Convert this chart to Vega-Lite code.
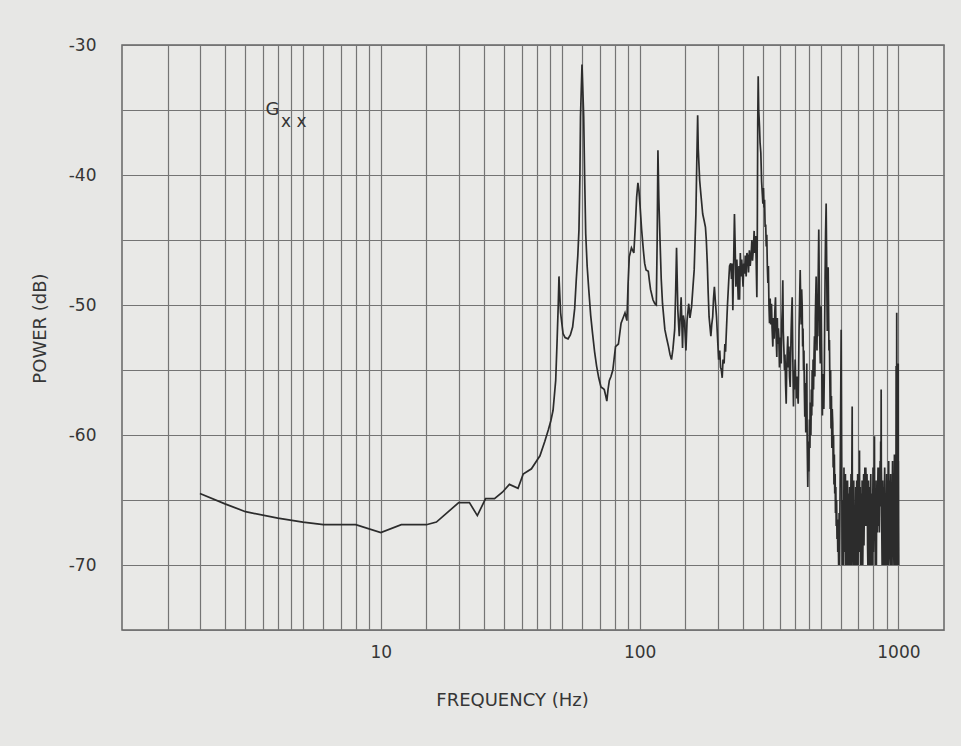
{
"$schema": "https://vega.github.io/schema/vega-lite/v6.json",
"autosize": {"type": "none"},
"padding": {"left": 122, "top": 45, "right": 17, "bottom": 116},
"width": 822,
"height": 585,
"background": "#e7e7e5",
"config": {
"view": {"stroke": "#666666", "strokeWidth": 1.5, "fill": "#e9e9e7"},
"axis": {"grid": true, "gridColor": "#747474", "gridWidth": 1.2, "gridOpacity": 1, "domain": false, "ticks": false, "tickSize": 0, "labelFont": "DejaVu Sans", "labelFontSize": 17, "labelColor": "#363636", "titleFont": "DejaVu Sans", "titleFontSize": 18, "titleFontWeight": "normal", "titleColor": "#363636", "labelOverlap": false, "labelBound": false, "labelFlush": false}
},
"data": {"values": [
{"f":2,"p":-64.5},{"f":2.5,"p":-65.3},{"f":3,"p":-65.9},{"f":4,"p":-66.4},{"f":5,"p":-66.7},{"f":6,"p":-66.9},{"f":8,"p":-66.9},{"f":10,"p":-67.5},{"f":12,"p":-66.9},{"f":15,"p":-66.9},{"f":16.4,"p":-66.7},{"f":20,"p":-65.2},{"f":22,"p":-65.2},{"f":23.6,"p":-66.2},{"f":25.4,"p":-64.9},{"f":27.5,"p":-64.9},{"f":29.5,"p":-64.4},{"f":31.4,"p":-63.8},{"f":33.9,"p":-64.1},{"f":35.5,"p":-63.0},{"f":38.2,"p":-62.6},{"f":41.2,"p":-61.6},{"f":43,"p":-60.5},{"f":44.4,"p":-59.6},{"f":45.4,"p":-58.9},{"f":46.3,"p":-58.1},{"f":47.4,"p":-55.8},{"f":48,"p":-52.7},{"f":48.5,"p":-49.9},{"f":48.8,"p":-47.8},{"f":49.5,"p":-50.6},{"f":50.6,"p":-52.2},{"f":51.5,"p":-52.5},{"f":52.9,"p":-52.6},{"f":54,"p":-52.3},{"f":55.1,"p":-51.7},{"f":56.1,"p":-50.3},{"f":56.9,"p":-48.1},{"f":57.7,"p":-46.2},{"f":58.3,"p":-44.2},{"f":58.8,"p":-40.0},{"f":59.1,"p":-35.5},{"f":59.9,"p":-31.5},{"f":60.8,"p":-35.5},{"f":61.3,"p":-40.0},{"f":61.9,"p":-44.5},{"f":62.7,"p":-47.0},{"f":63.6,"p":-48.8},{"f":64.7,"p":-50.8},{"f":65.8,"p":-52.2},{"f":67,"p":-53.6},{"f":68.2,"p":-54.7},{"f":69.5,"p":-55.6},{"f":70.9,"p":-56.3},{"f":72,"p":-56.4},{"f":73,"p":-56.5},{"f":74,"p":-57.0},{"f":74.7,"p":-57.4},{"f":75.5,"p":-56.5},{"f":76.4,"p":-55.8},{"f":77.5,"p":-55.5},{"f":78.8,"p":-55.0},{"f":80.7,"p":-53.2},{"f":82.8,"p":-53.0},{"f":84.8,"p":-51.4},{"f":86.3,"p":-51.0},{"f":87.8,"p":-50.6},{"f":89.3,"p":-51.2},{"f":90.2,"p":-48.5},{"f":91.2,"p":-46.3},{"f":93,"p":-45.6},{"f":95,"p":-46.0},{"f":96.2,"p":-44.0},{"f":97.4,"p":-41.7},{"f":98.5,"p":-40.6},{"f":99.4,"p":-41.2},{"f":100.4,"p":-42.4},{"f":101.8,"p":-44.2},{"f":103.4,"p":-45.8},{"f":104.6,"p":-46.8},{"f":105.9,"p":-47.3},{"f":108,"p":-47.4},{"f":109.2,"p":-48.2},{"f":110.2,"p":-48.8},{"f":112.6,"p":-49.6},{"f":114.5,"p":-49.9},{"f":116,"p":-50.0},{"f":116.9,"p":-45.0},{"f":117.7,"p":-38.1},{"f":118.6,"p":-41.7},{"f":119.9,"p":-45.0},{"f":121.2,"p":-48.0},{"f":122.6,"p":-49.9},{"f":125.2,"p":-51.9},{"f":127,"p":-52.5},{"f":129.3,"p":-53.2},{"f":131,"p":-53.8},{"f":132.8,"p":-54.2},{"f":134.5,"p":-53.4},{"f":136.6,"p":-51.9},{"f":137.8,"p":-49.0},{"f":138.9,"p":-45.6},{"f":140.5,"p":-50.4},{"f":142.3,"p":-52.4},{"f":144.7,"p":-49.4},{"f":146.5,"p":-53.3},{"f":147.5,"p":-50.8},{"f":149.2,"p":-51.4},{"f":151,"p":-53.5},{"f":152.5,"p":-51.2},{"f":154.8,"p":-49.9},{"f":156.5,"p":-51.0},{"f":158.8,"p":-50.1},{"f":160.5,"p":-48.8},{"f":162.5,"p":-47.3},{"f":163.8,"p":-45.0},{"f":165,"p":-43.0},{"f":166.3,"p":-39.0},{"f":167.6,"p":-35.4},{"f":168.5,"p":-38.0},{"f":170.6,"p":-40.4},{"f":172.5,"p":-41.5},{"f":175.3,"p":-43.0},{"f":177.5,"p":-43.5},{"f":179.6,"p":-44.0},{"f":181,"p":-45.0},{"f":182.6,"p":-46.8},{"f":184,"p":-49.0},{"f":185.5,"p":-50.9},{"f":188.5,"p":-52.4},{"f":190,"p":-51.5},{"f":191.6,"p":-50.9},{"f":193,"p":-49.5},{"f":194.5,"p":-48.6},{"f":196.3,"p":-49.8},{"f":198.2,"p":-50.9},{"f":200,"p":-52.5},{"f":202,"p":-54.2},{"f":204,"p":-53.5},{"f":205.5,"p":-54.8},{"f":206.9,"p":-55.0},{"f":208.5,"p":-55.6},{"f":210,"p":-54.2},{"f":212.1,"p":-54.5},{"f":213.5,"p":-53.0},{"f":214.8,"p":-53.6},{"f":216.5,"p":-51.9},{"f":218.5,"p":-50.0},{"f":221,"p":-48.1},{"f":222.6,"p":-47.0},{"f":224.9,"p":-46.8},{"f":226.5,"p":-48.0},{"f":228,"p":-46.8},{"f":229.2,"p":-50.4},{"f":230.5,"p":-47.5},{"f":232.5,"p":-43.0},{"f":234,"p":-45.5},{"f":235.5,"p":-48.6},{"f":237.5,"p":-46.5},{"f":239,"p":-48.0},{"f":240.5,"p":-49.6},{"f":242,"p":-47.0},{"f":243.3,"p":-49.6},{"f":245,"p":-46.0},{"f":246.5,"p":-47.8},{"f":248,"p":-46.5},{"f":249.2,"p":-47.3},{"f":251,"p":-48.6},{"f":252.5,"p":-46.8},{"f":254.4,"p":-47.6},{"f":256,"p":-46.2},{"f":258,"p":-47.8},{"f":259.8,"p":-46.0},{"f":261.9,"p":-46.3},{"f":263.5,"p":-47.5},{"f":265.5,"p":-45.8},{"f":267.5,"p":-47.0},{"f":269.9,"p":-46.0},{"f":271.5,"p":-45.0},{"f":273,"p":-46.6},{"f":275.5,"p":-45.5},{"f":277,"p":-44.3},{"f":278.5,"p":-46.0},{"f":280.5,"p":-44.7},{"f":282,"p":-46.5},{"f":283.8,"p":-49.4},{"f":285,"p":-44.0},{"f":286,"p":-36.0},{"f":287.2,"p":-32.4},{"f":288.5,"p":-35.0},{"f":290.6,"p":-36.3},{"f":292,"p":-37.5},{"f":294,"p":-38.3},{"f":296,"p":-40.5},{"f":298,"p":-41.5},{"f":299.4,"p":-42.2},{"f":301,"p":-41.0},{"f":302.5,"p":-42.5},{"f":303.9,"p":-41.9},{"f":305.5,"p":-44.0},{"f":307,"p":-43.8},{"f":308.5,"p":-45.5},{"f":310,"p":-44.6},{"f":311.5,"p":-47.0},{"f":313,"p":-48.3},{"f":314.5,"p":-47.0},{"f":316,"p":-50.0},{"f":317.6,"p":-51.4},{"f":319.5,"p":-49.5},{"f":321,"p":-51.5},{"f":323.3,"p":-49.9},{"f":325,"p":-51.8},{"f":327.1,"p":-53.2},{"f":329,"p":-51.0},{"f":331,"p":-52.6},{"f":333,"p":-50.5},{"f":335,"p":-49.4},{"f":337,"p":-52.5},{"f":338.9,"p":-54.0},{"f":340.5,"p":-51.0},{"f":342,"p":-53.0},{"f":343.5,"p":-51.8},{"f":345,"p":-52.4},{"f":347,"p":-54.8},{"f":349,"p":-52.5},{"f":350.5,"p":-53.5},{"f":352.5,"p":-54.5},{"f":354,"p":-51.5},{"f":356,"p":-50.2},{"f":357.5,"p":-48.1},{"f":359,"p":-52.0},{"f":361,"p":-53.5},{"f":362.9,"p":-55.0},{"f":364.5,"p":-53.8},{"f":366.5,"p":-56.2},{"f":368.4,"p":-57.6},{"f":370,"p":-55.0},{"f":372,"p":-53.5},{"f":373.7,"p":-52.4},{"f":375.5,"p":-54.8},{"f":377.5,"p":-53.2},{"f":379.5,"p":-55.5},{"f":381.8,"p":-56.3},{"f":383.5,"p":-54.0},{"f":385,"p":-52.0},{"f":386.8,"p":-50.5},{"f":388.6,"p":-49.4},{"f":390.5,"p":-53.5},{"f":392,"p":-56.0},{"f":393.1,"p":-57.8},{"f":395,"p":-55.0},{"f":397,"p":-56.5},{"f":399,"p":-54.2},{"f":401,"p":-56.0},{"f":402.7,"p":-55.5},{"f":404.5,"p":-57.2},{"f":406,"p":-55.5},{"f":408,"p":-56.8},{"f":409.9,"p":-57.6},{"f":411.5,"p":-55.0},{"f":413,"p":-52.0},{"f":415,"p":-49.8},{"f":417.3,"p":-47.3},{"f":419,"p":-49.5},{"f":421,"p":-51.5},{"f":422.8,"p":-48.8},{"f":424.8,"p":-50.1},{"f":426.5,"p":-53.2},{"f":428,"p":-51.8},{"f":429.8,"p":-55.0},{"f":431.5,"p":-53.5},{"f":433,"p":-56.5},{"f":434.7,"p":-58.6},{"f":436.5,"p":-56.0},{"f":438.5,"p":-59.8},{"f":440.5,"p":-57.5},{"f":442.5,"p":-54.5},{"f":444,"p":-60.5},{"f":446.4,"p":-64.0},{"f":448.5,"p":-60.5},{"f":450.5,"p":-62.8},{"f":453.2,"p":-58.8},{"f":455,"p":-61.0},{"f":457,"p":-57.5},{"f":459,"p":-60.0},{"f":461,"p":-56.5},{"f":462.5,"p":-58.5},{"f":464.2,"p":-55.0},{"f":466,"p":-57.8},{"f":468,"p":-54.2},{"f":470,"p":-56.5},{"f":472,"p":-53.8},{"f":473.8,"p":-52.4},{"f":475.5,"p":-55.5},{"f":477.5,"p":-51.0},{"f":479,"p":-49.5},{"f":481,"p":-47.8},{"f":482.5,"p":-50.5},{"f":484.5,"p":-53.5},{"f":486,"p":-51.0},{"f":487.9,"p":-52.4},{"f":489.5,"p":-48.5},{"f":491,"p":-46.0},{"f":492.3,"p":-44.2},{"f":494,"p":-47.5},{"f":495.5,"p":-50.5},{"f":497,"p":-53.0},{"f":499,"p":-54.5},{"f":501,"p":-51.5},{"f":502.9,"p":-50.1},{"f":504.5,"p":-53.0},{"f":506.5,"p":-56.0},{"f":508.5,"p":-58.5},{"f":510,"p":-55.5},{"f":511.8,"p":-57.2},{"f":513.3,"p":-55.3},{"f":515,"p":-58.0},{"f":517,"p":-55.5},{"f":519,"p":-51.0},{"f":521,"p":-47.5},{"f":523,"p":-44.5},{"f":525.7,"p":-42.2},{"f":527.5,"p":-45.5},{"f":529.5,"p":-49.5},{"f":531,"p":-52.0},{"f":533,"p":-49.5},{"f":535.2,"p":-47.1},{"f":537,"p":-50.0},{"f":539,"p":-53.5},{"f":541.4,"p":-52.7},{"f":543,"p":-55.5},{"f":545,"p":-58.0},{"f":547,"p":-55.0},{"f":549,"p":-59.5},{"f":551,"p":-57.0},{"f":553,"p":-61.0},{"f":555,"p":-58.0},{"f":557.5,"p":-59.1},{"f":559.5,"p":-62.5},{"f":561.5,"p":-60.0},{"f":563.5,"p":-63.8},{"f":565.5,"p":-61.5},{"f":567.5,"p":-64.5},{"f":569.5,"p":-63.0},{"f":571.1,"p":-66.0},{"f":573,"p":-64.0},{"f":575,"p":-67.0},{"f":577,"p":-65.0},{"f":579,"p":-68.0},{"f":581,"p":-66.5},{"f":583,"p":-69.0},{"f":585,"p":-67.0},{"f":587.5,"p":-70.0},{"f":590,"p":-66.0},{"f":592,"p":-70.0},{"f":595,"p":-64.5},{"f":598,"p":-58.0},{"f":600.9,"p":-51.9},{"f":603,"p":-60.0},{"f":605.5,"p":-67.0},{"f":607.5,"p":-70.0},{"f":610,"p":-65.0},
{"f":612,"p":-66.0},{"f":614,"p":-70.0},{"f":616,"p":-62.5},{"f":618,"p":-68.0},{"f":620,"p":-65.5},{"f":622,"p":-69.0},{"f":624,"p":-63.0},{"f":626,"p":-70.0},{"f":628,"p":-66.5},{"f":630,"p":-63.5},{"f":632,"p":-70.0},{"f":634,"p":-65.0},{"f":636,"p":-63.5},{"f":638,"p":-70.0},{"f":640,"p":-68.5},{"f":642,"p":-64.5},{"f":644,"p":-70.0},{"f":646,"p":-66.0},{"f":648,"p":-64.0},{"f":650,"p":-69.0},{"f":652,"p":-70.0},{"f":654,"p":-65.0},{"f":656,"p":-63.0},{"f":657.5,"p":-70.0},{"f":659,"p":-66.5},{"f":661,"p":-62.0},{"f":662.7,"p":-57.8},{"f":664,"p":-66.0},{"f":665,"p":-64.0},{"f":666.5,"p":-69.0},{"f":668,"p":-70.0},{"f":670,"p":-64.5},{"f":672,"p":-63.5},{"f":674,"p":-70.0},{"f":676,"p":-69.0},{"f":678,"p":-65.5},{"f":680,"p":-70.0},{"f":682,"p":-66.5},{"f":684,"p":-64.0},{"f":686,"p":-70.0},{"f":688,"p":-68.0},{"f":690,"p":-63.5},{"f":692,"p":-70.0},{"f":694,"p":-66.0},{"f":696,"p":-63.0},{"f":698,"p":-70.0},{"f":700,"p":-67.5},{"f":702,"p":-63.5},{"f":704,"p":-64.0},{"f":705.5,"p":-69.0},{"f":707.2,"p":-61.2},{"f":708.5,"p":-66.0},{"f":710,"p":-68.0},{"f":712,"p":-64.0},{"f":714,"p":-70.0},{"f":716,"p":-66.5},{"f":718,"p":-64.5},{"f":720,"p":-68.0},{"f":722,"p":-70.0},{"f":724,"p":-63.5},{"f":726,"p":-65.0},{"f":728,"p":-70.0},{"f":730,"p":-67.5},{"f":732,"p":-64.5},{"f":734,"p":-63.0},{"f":736,"p":-68.5},{"f":738,"p":-66.0},{"f":740,"p":-64.0},{"f":742,"p":-62.5},{"f":744,"p":-67.0},{"f":746,"p":-65.5},{"f":748,"p":-62.5},{"f":750,"p":-63.5},{"f":752,"p":-66.0},{"f":754,"p":-67.0},{"f":756,"p":-63.0},{"f":758,"p":-64.5},{"f":760,"p":-68.5},{"f":762,"p":-70.0},{"f":764,"p":-65.5},{"f":766,"p":-63.5},{"f":768,"p":-68.0},{"f":770,"p":-70.0},{"f":772,"p":-64.0},{"f":774,"p":-65.0},{"f":776,"p":-69.0},{"f":778,"p":-70.0},{"f":780,"p":-65.5},{"f":782,"p":-63.0},{"f":784,"p":-70.0},{"f":786,"p":-69.0},{"f":788,"p":-64.5},{"f":790,"p":-66.0},{"f":792,"p":-68.5},{"f":794,"p":-70.0},{"f":796,"p":-65.0},{"f":798,"p":-62.5},{"f":800,"p":-69.0},{"f":802,"p":-67.5},{"f":804,"p":-63.0},{"f":806,"p":-64.0},{"f":808,"p":-60.1},{"f":809.5,"p":-68.0},{"f":811,"p":-66.0},{"f":812.5,"p":-63.5},{"f":814,"p":-70.0},{"f":816,"p":-66.0},{"f":818,"p":-64.5},{"f":820,"p":-69.0},{"f":822,"p":-70.0},{"f":824,"p":-65.0},{"f":826,"p":-63.5},{"f":828,"p":-67.5},{"f":830,"p":-66.5},{"f":832,"p":-64.0},{"f":834,"p":-62.5},{"f":836,"p":-67.0},{"f":838,"p":-65.5},{"f":840,"p":-62.5},{"f":842,"p":-63.0},{"f":844,"p":-67.5},{"f":846,"p":-66.0},{"f":848,"p":-63.5},{"f":850,"p":-62.0},{"f":852,"p":-65.5},{"f":854,"p":-60.5},{"f":856,"p":-64.0},{"f":857.6,"p":-56.5},{"f":859,"p":-62.5},{"f":861,"p":-64.0},{"f":863,"p":-68.0},{"f":865,"p":-70.0},{"f":867,"p":-64.5},{"f":869,"p":-63.5},{"f":871,"p":-68.5},{"f":873,"p":-70.0},{"f":875,"p":-65.5},{"f":877,"p":-64.0},{"f":879,"p":-70.0},{"f":881,"p":-69.5},{"f":883,"p":-64.0},{"f":885,"p":-62.5},{"f":887,"p":-67.0},{"f":889,"p":-70.0},{"f":891,"p":-66.5},{"f":893,"p":-64.5},{"f":895,"p":-69.0},{"f":897,"p":-70.0},{"f":899,"p":-65.0},{"f":901,"p":-63.0},{"f":903,"p":-70.0},{"f":905,"p":-68.0},{"f":907,"p":-63.5},{"f":909,"p":-65.0},{"f":911,"p":-69.0},{"f":913,"p":-70.0},{"f":915,"p":-64.5},{"f":917,"p":-62.0},{"f":919,"p":-67.5},{"f":921,"p":-69.0},{"f":923,"p":-63.5},{"f":925,"p":-64.5},{"f":927,"p":-69.5},{"f":929,"p":-70.0},{"f":931,"p":-65.0},{"f":933,"p":-63.0},{"f":935,"p":-68.0},{"f":937,"p":-70.0},{"f":939,"p":-64.0},{"f":941,"p":-65.5},{"f":943,"p":-69.0},{"f":945,"p":-70.0},{"f":947,"p":-64.5},{"f":949,"p":-62.0},{"f":951,"p":-67.0},{"f":953,"p":-68.5},{"f":955,"p":-63.0},{"f":957,"p":-64.0},{"f":959,"p":-69.0},{"f":961,"p":-70.0},{"f":963,"p":-64.5},{"f":965,"p":-61.5},{"f":967,"p":-67.5},{"f":969,"p":-70.0},{"f":971,"p":-65.0},{"f":973,"p":-63.5},{"f":975,"p":-68.0},{"f":977,"p":-70.0},{"f":978.5,"p":-63.0},{"f":979.7,"p":-54.7},{"f":981,"p":-66.0},{"f":982,"p":-62.0},{"f":983.5,"p":-68.0},{"f":984.9,"p":-50.6},{"f":986.5,"p":-60.0},{"f":988,"p":-64.0},{"f":990,"p":-69.5},{"f":992,"p":-70.0},{"f":993.5,"p":-65.0},{"f":995,"p":-63.0},{"f":996.5,"p":-68.0},{"f":998,"p":-54.5},{"f":999,"p":-66.0},{"f":1000,"p":-62.0},{"f":1001.5,"p":-67.0},{"f":1003,"p":-70.0}
]},
"encoding": {
"x": {"field": "f", "type": "quantitative", "scale": {"type": "log", "domain": [1, 1500], "nice": false, "zero": false},
"axis": {"values": [1.5,2,2.5,3,3.5,4,4.5,5,6,7,8,9,10,15,20,25,30,35,40,45,50,60,70,80,90,100,150,200,250,300,350,400,450,500,600,700,800,900,1000],
"labelExpr": "datum.value == 10 || datum.value == 100 || datum.value == 1000 ? '' + datum.value : ''",
"labelPadding": 14, "title": "FREQUENCY (Hz)", "titleX": 390, "titleY": 70, "titleAlign": "center", "titleBaseline": "middle"}},
"y": {"field": "p", "type": "quantitative", "scale": {"domain": [-75, -30], "nice": false, "zero": false},
"axis": {"values": [-75,-70,-65,-60,-55,-50,-45,-40,-35,-30],
"labelExpr": "datum.value % 10 == 0 ? '-' + abs(datum.value) : ''",
"labelPadding": 26, "title": "POWER (dB)", "titleX": -82, "titleY": 283, "titleAngle": -90, "titleAlign": "center", "titleBaseline": "middle"}}
},
"layer": [
{"mark": {"type": "line", "color": "#2c2c2c", "strokeWidth": 1.7, "clip": true}},
{"data": {"values": [{"f": 3.81, "p": -35.0, "label": "G"}]},
 "mark": {"type": "text", "font": "DejaVu Sans", "fontSize": 18, "color": "#363636", "align": "center", "baseline": "middle"},
 "encoding": {"text": {"field": "label"}}},
{"data": {"values": [{"f": 4.61, "p": -35.9, "label": "x x"}]},
 "mark": {"type": "text", "font": "DejaVu Sans", "fontSize": 17, "color": "#363636", "align": "center", "baseline": "middle"},
 "encoding": {"text": {"field": "label"}}}
]
}
